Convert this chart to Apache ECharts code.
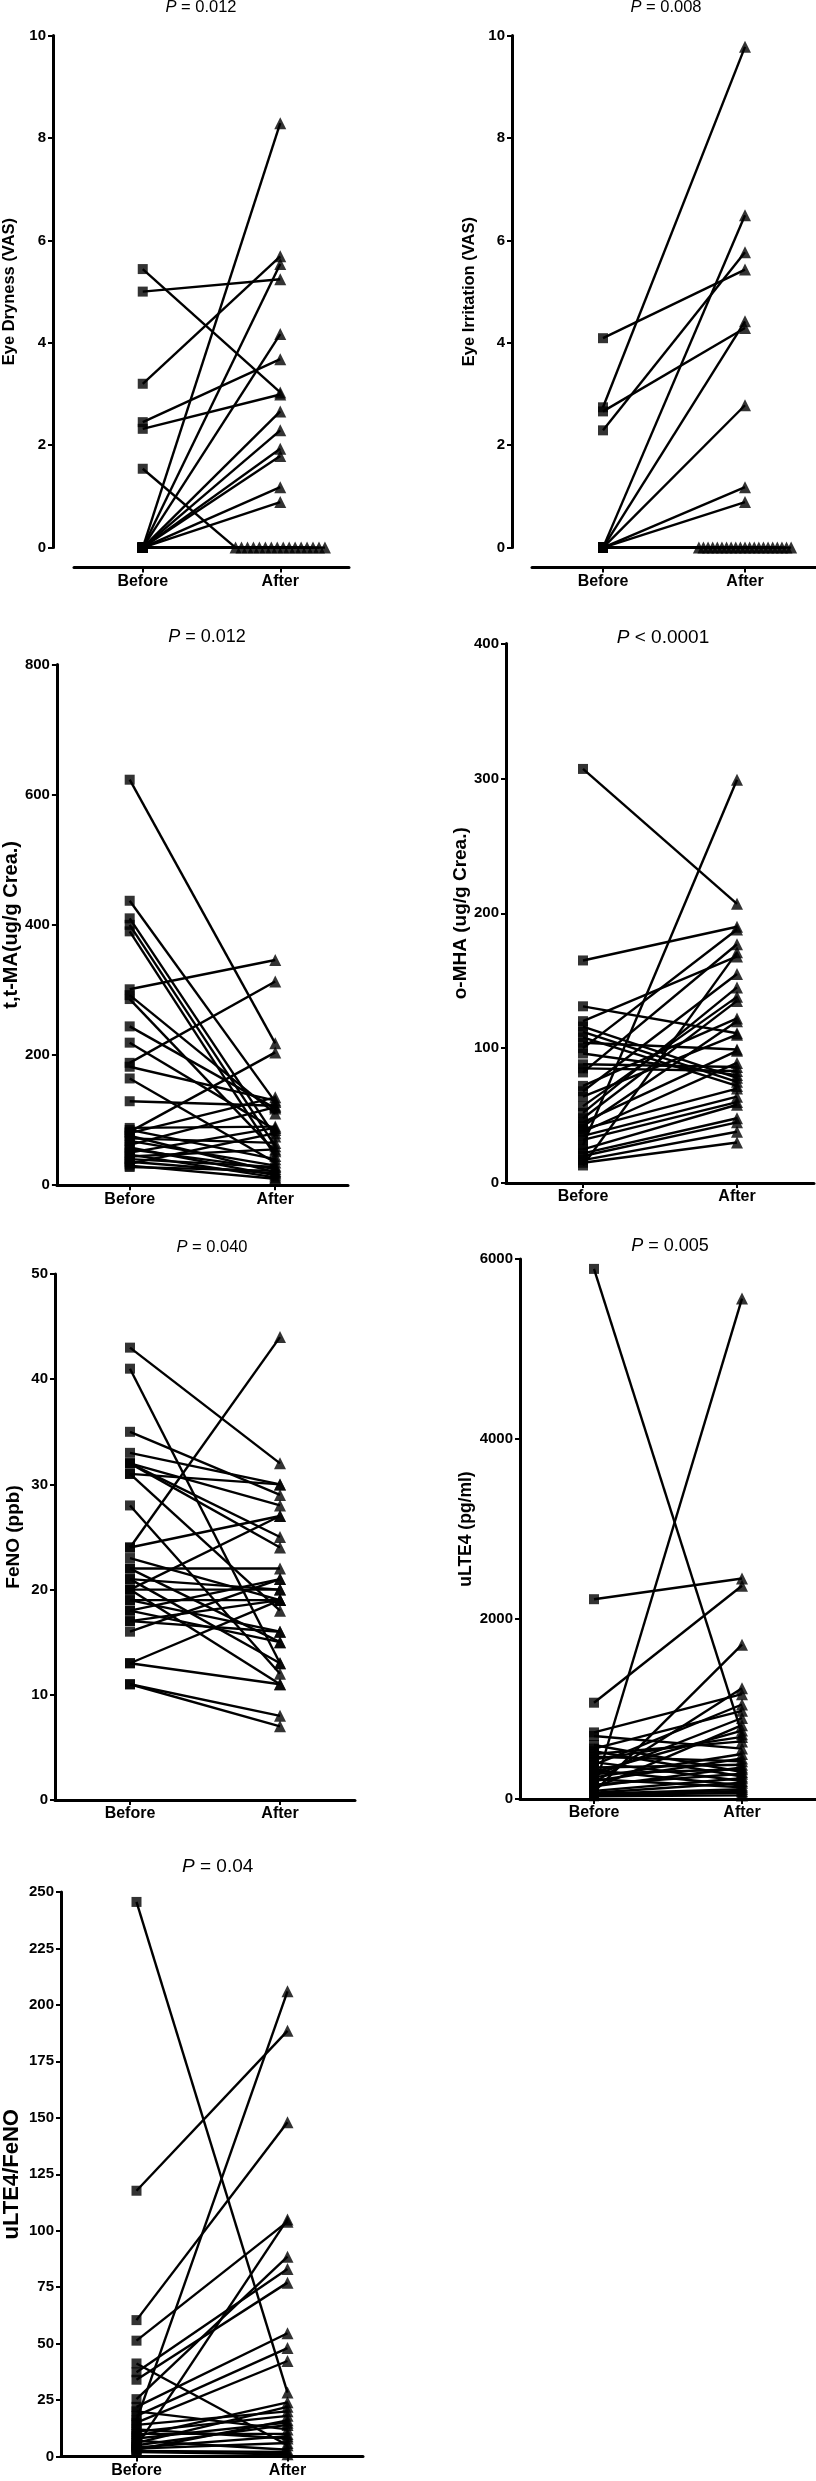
<!DOCTYPE html>
<html><head><meta charset="utf-8">
<script src="https://cdn.jsdelivr.net/npm/echarts@6/dist/echarts.min.js"></script>
<style>html,body{margin:0;padding:0;background:#fff}#c{width:816px;height:2481px}</style>
</head><body><div id="c"></div>
<script>
// ---------- DATA ----------
const categories = ['Before', 'After'];
const pLabels = ['= 0.012', '= 0.008', '= 0.012', '< 0.0001', '= 0.040', '= 0.005', '= 0.04'];
const yNames = ['Eye Dryness (VAS)', 'Eye Irritation (VAS)', 't,t-MA(ug/g Crea.)', 'o-MHA (ug/g Crea.)', 'FeNO (ppb)', 'uLTE4 (pg/ml)', 'uLTE4/FeNO'];
const yMax = [10, 10, 800, 400, 50, 6000, 250];
const yStep = [2, 2, 200, 100, 10, 2000, 25];

const dryBefore = [5.44, 5.0, 3.2, 2.45, 2.32, 1.54, 0, 0, 0, 0, 0, 0, 0, 0, 0, 0, 0, 0, 0, 0, 0, 0, 0, 0, 0, 0, 0, 0, 0, 0];
const dryAfter  = [3.03, 5.24, 5.69, 3.68, 2.99, 0, 8.29, 5.54, 4.17, 2.66, 2.29, 1.93, 1.79, 1.18, 0.89, 0, 0, 0, 0, 0, 0, 0, 0, 0, 0, 0, 0, 0, 0, 0];

const irrBefore = [4.09, 2.74, 2.66, 2.29, 0, 0, 0, 0, 0, 0, 0, 0, 0, 0, 0, 0, 0, 0, 0, 0, 0, 0, 0, 0, 0, 0, 0, 0, 0, 0];
const irrAfter  = [5.43, 9.78, 4.29, 5.77, 6.49, 4.42, 2.78, 1.18, 0.89, 0, 0, 0, 0, 0, 0, 0, 0, 0, 0, 0, 0, 0, 0, 0, 0, 0, 0, 0, 0, 0];

const ttmaBefore = [623, 437, 410, 400, 390, 301, 292, 286, 244, 219, 188, 182, 164, 129, 88, 85, 82, 80, 76, 72, 68, 62, 58, 55, 50, 47, 44, 40, 36, 33, 30, 28];
const ttmaAfter  = [218, 128, 75, 60, 45, 346, 110, 52, 118, 85, 313, 130, 35, 122, 90, 40, 204, 135, 20, 65, 30, 120, 15, 25, 88, 12, 55, 28, 18, 80, 10, 22];

const omhaBefore = [307, 165, 131, 120, 116, 112, 108, 104, 100, 96, 88, 85, 82, 72, 68, 64, 57, 52, 48, 45, 42, 40, 38, 35, 32, 28, 25, 22, 20, 17, 15, 13];
const omhaAfter  = [207, 190, 111, 168, 78, 75, 72, 99, 188, 80, 86, 83, 177, 122, 155, 110, 138, 145, 135, 98, 120, 70, 89, 64, 60, 299, 58, 48, 45, 38, 30, 171];

const fenoBefore = [43, 41, 35, 33, 32, 32, 32, 31, 31, 28, 24, 24, 23, 22, 22, 21, 21, 20, 20, 20, 19, 19, 18, 18, 17, 17, 16, 13, 13, 11, 11];
const fenoAfter  = [32, 13, 29, 30, 28, 25, 24, 30, 18, 12, 44, 27, 19, 22, 15, 13, 20, 27, 20, 11, 19, 16, 21, 15, 19, 16, 21, 19, 11, 8, 7];

const lteBefore = [5890, 2220, 1070, 740, 700, 600, 560, 530, 500, 470, 440, 410, 380, 350, 320, 300, 280, 260, 240, 220, 200, 180, 160, 140, 120, 100, 90, 80, 70, 60, 50, 40, 30];
const lteAfter  = [720, 2450, 2370, 1165, 560, 300, 980, 250, 640, 420, 690, 200, 1050, 380, 150, 760, 330, 900, 500, 130, 450, 1230, 280, 350, 820, 5560, 230, 1715, 180, 110, 90, 70, 40];

const ratioBefore = [245.6, 117.7, 60.4, 51.3, 41.2, 37.3, 34.0, 25.4, 22, 20, 18, 16, 15, 14, 12, 11, 10, 9, 8, 7, 6, 5, 4.5, 4, 3.5, 3, 2.5, 2];
const ratioAfter  = [28.3, 188.5, 148, 104, 5, 83, 77, 88.5, 54.6, 12, 48, 206, 42.3, 20, 8, 18, 10, 24, 15, 3, 22, 14, 105, 9, 6, 16, 2, 1];

// ---------- LAYOUT ----------
const FONT = '"Liberation Sans", Arial, Helvetica, sans-serif';
const panels = [
  {b: dryBefore,  a: dryAfter,   grid: {left: 68,  top: 35.6, width: 281, height: 512},   yOff: 21, xOff: 20, tx: 196, ty: 4,    ts: 16.5, ns: 16.5, ng: 35},
  {b: irrBefore,  a: irrAfter,   grid: {left: 532, top: 35.6, width: 284, height: 512},   yOff: 20, xOff: 20, tx: 661, ty: 4,    ts: 16.5, ns: 16.5, ng: 34},
  {b: ttmaBefore, a: ttmaAfter,  grid: {left: 52,  top: 664.5, width: 296, height: 520.7}, yOff: 0, xOff: 0, tx: 202, ty: 633.6, ts: 18, ns: 20, ng: 35},
  {b: omhaBefore, a: omhaAfter,  grid: {left: 506, top: 643.5, width: 308, height: 539.5}, yOff: 0, xOff: 0, tx: 658, ty: 634.8, ts: 19, ns: 19, ng: 35},
  {b: fenoBefore, a: fenoAfter,  grid: {left: 55,  top: 1274, width: 300, height: 526},   yOff: 0, xOff: 0, tx: 207, ty: 1244,  ts: 16.5, ns: 19, ng: 32},
  {b: lteBefore,  a: lteAfter,   grid: {left: 520, top: 1259, width: 296, height: 540},   yOff: 0, xOff: 0, tx: 665, ty: 1242.7, ts: 18, ns: 17.5, ng: 45},
  {b: ratioBefore, a: ratioAfter, grid: {left: 60, top: 1892, width: 303, height: 564.5}, yOff: 0, xOff: 0, tx: 212.7, ty: 1864, ts: 19, ns: 22, ng: 38}
];

const SPREAD = 0.65;   // width (category units) over which many identical After values are spread
const MIN_STACK = 5;   // spread only when a value repeats at least this often
function afterPositions(vals) {
  const counts = {}, seen = {};
  vals.forEach(v => { counts[v] = (counts[v] || 0) + 1; });
  return vals.map(v => {
    const n = counts[v];
    if (n < MIN_STACK) return 1;
    const k = seen[v] = (seen[v] === undefined ? 0 : seen[v] + 1);
    return 1 - SPREAD / 2 + SPREAD * k / (n - 1);
  });
}

const grids = [], xAxes = [], yAxes = [], series = [], titles = [];
panels.forEach((p, i) => {
  grids.push(Object.assign({containLabel: false}, p.grid));
  xAxes.push({
    type: 'category', gridIndex: i, data: categories, boundaryGap: true, offset: p.xOff,
    axisLine: {show: true, onZero: false, lineStyle: {color: '#000', width: 3}},
    axisTick: {show: true, alignWithLabel: true, length: 5, lineStyle: {color: '#000', width: 2}},
    axisLabel: {color: '#000', fontWeight: 'bold', fontSize: 16, fontFamily: FONT, margin: 6},
    splitLine: {show: false}
  });
  xAxes.push({type: 'value', gridIndex: i, min: -0.5, max: 1.5, show: false});
  yAxes.push({
    type: 'value', gridIndex: i, min: 0, max: yMax[i], interval: yStep[i], offset: p.yOff,
    axisLine: {show: true, onZero: false, lineStyle: {color: '#000', width: 3}},
    axisTick: {show: true, length: 5, lineStyle: {color: '#000', width: 2}},
    axisLabel: {color: '#000', fontWeight: 'bold', fontSize: 15, fontFamily: FONT, margin: 7,
                formatter: v => String(v)},
    splitLine: {show: false},
    name: yNames[i], nameLocation: 'middle', nameGap: p.ng,
    nameTextStyle: {color: '#000', fontWeight: 'bold', fontSize: p.ns, fontFamily: FONT}
  });
  titles.push({
    text: '{i|P} ' + pLabels[i], left: p.tx, top: p.ty - p.ts * 0.6, textAlign: 'center',
    textStyle: {
      color: '#000', fontWeight: 'normal', fontSize: p.ts, fontFamily: FONT,
      rich: {i: {fontStyle: 'italic', fontSize: p.ts, fontFamily: FONT, color: '#000'}}
    }
  });
  const ax = afterPositions(p.a);
  const xi = 2 * i + 1;
  p.b.forEach((bv, j) => {
    series.push({
      type: 'line', xAxisIndex: xi, yAxisIndex: i, data: [[0, bv], [ax[j], p.a[j]]],
      symbol: 'none', silent: true, z: 2, clip: false,
      lineStyle: {color: '#000', width: 2.4}
    });
  });
  series.push({
    type: 'scatter', xAxisIndex: xi, yAxisIndex: i, data: p.b.map(v => [0, v]),
    symbol: 'rect', symbolSize: 10, itemStyle: {color: '#000'}, z: 3, silent: true, clip: false
  });
  series.push({
    type: 'scatter', xAxisIndex: xi, yAxisIndex: i, data: p.a.map((v, j) => [ax[j], v]),
    symbol: 'triangle', symbolSize: 12, itemStyle: {color: '#000'}, z: 3, silent: true, clip: false
  });
});

const chart = echarts.init(document.getElementById('c'), null, {renderer: 'canvas'});
chart.setOption({
  animation: false,
  backgroundColor: '#fff',
  title: titles,
  grid: grids,
  xAxis: xAxes,
  yAxis: yAxes,
  series: series
});
</script>
</body></html>
